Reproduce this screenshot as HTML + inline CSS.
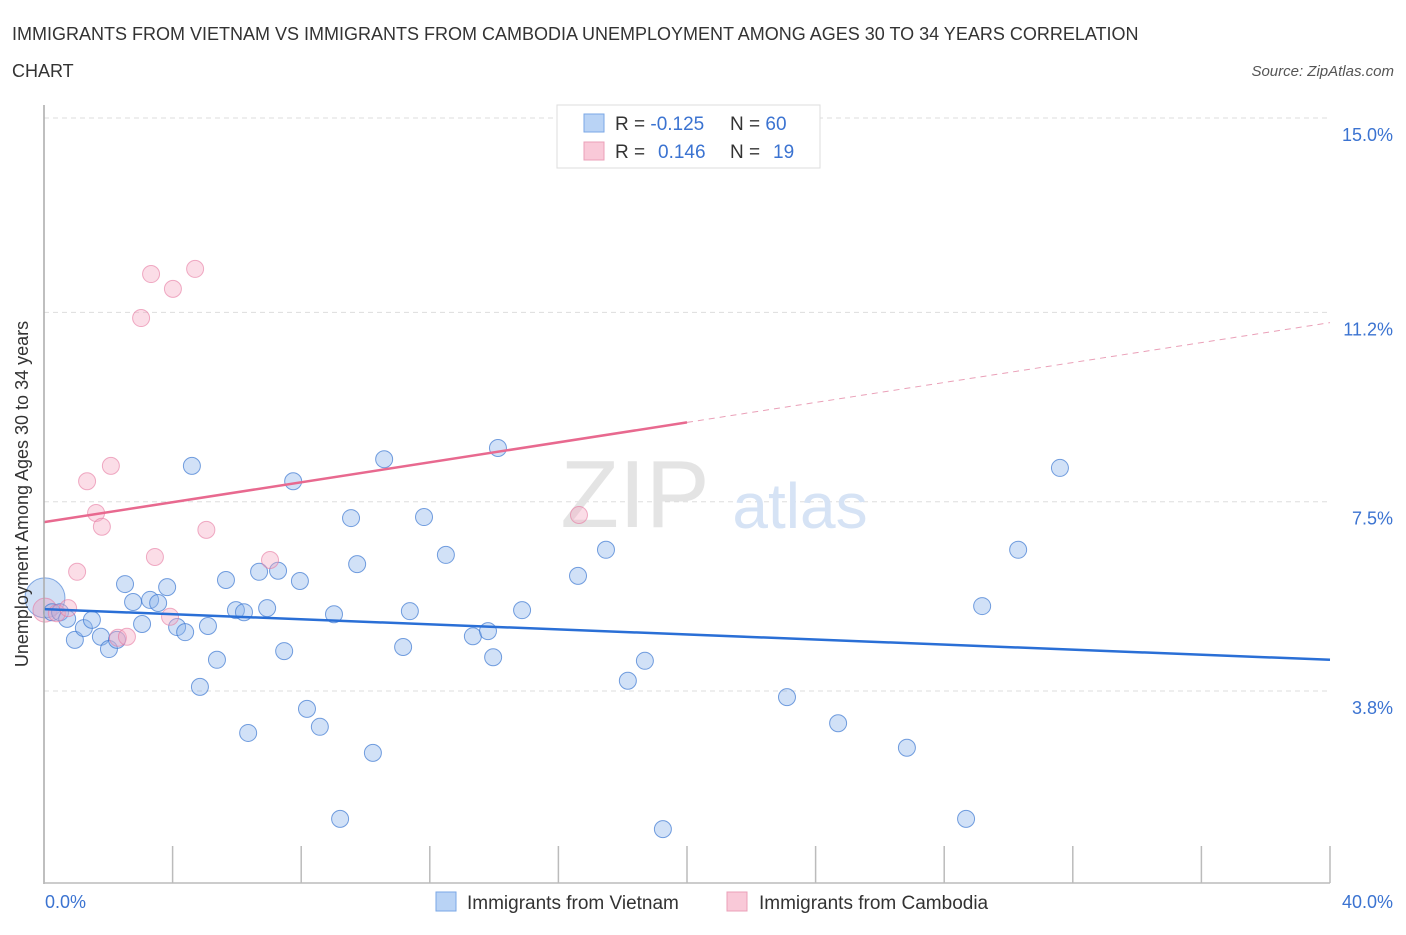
<!DOCTYPE html>
<html><head><meta charset="utf-8"><style>
body{margin:0;background:#fff;font-family:"Liberation Sans",sans-serif;}
svg text{font-family:"Liberation Sans",sans-serif;}
</style></head><body>
<svg width="1406" height="930">
<text x="12" y="40" font-size="18" fill="#333">IMMIGRANTS FROM VIETNAM VS IMMIGRANTS FROM CAMBODIA UNEMPLOYMENT AMONG AGES 30 TO 34 YEARS CORRELATION</text>
<text x="12" y="77" font-size="18" fill="#333">CHART</text>
<text x="1394" y="76" font-size="15" fill="#555" font-style="italic" text-anchor="end">Source: ZipAtlas.com</text>
<g id="grid"></g>
<text x="635" y="527" font-size="96" fill="#e4e4e4" font-family="Liberation Serif" text-anchor="middle">ZIP</text>
<text x="800" y="528" font-size="64" fill="#d6e3f5" text-anchor="middle">atlas</text>
<g id="pts"></g>
<g id="lines"></g>
<line x1="44" y1="105" x2="44" y2="884" stroke="#aaa" stroke-width="1.5"/>
<line x1="44" y1="883" x2="1330" y2="883" stroke="#bbb" stroke-width="1.5"/>
<text x="28" y="494" font-size="18" fill="#333" text-anchor="middle" transform="rotate(-90 28 494)">Unemployment Among Ages 30 to 34 years</text>
<text x="45" y="908" font-size="18" fill="#3b73d1">0.0%</text>
<text x="1393" y="908" font-size="18" fill="#3b73d1" text-anchor="end">40.0%</text>
<g>
<rect x="557" y="105" width="263" height="63" fill="#fff" stroke="#ddd"/>
<rect x="584" y="114" width="20" height="18" fill="#b9d3f5" stroke="#7aa7e6"/>
<rect x="584" y="142" width="20" height="18" fill="#f9c9d8" stroke="#eba0b8"/>
<text x="615" y="130" font-size="19" fill="#333">R = <tspan fill="#3b73d1">-0.125</tspan><tspan x="730">N = </tspan><tspan fill="#3b73d1">60</tspan></text>
<text x="615" y="158" font-size="19" fill="#333">R = <tspan fill="#3b73d1" x="658">0.146</tspan><tspan x="730">N = </tspan><tspan fill="#3b73d1" x="773">19</tspan></text>
</g>
<rect x="436" y="892" width="20" height="19" fill="#b9d3f5" stroke="#7aa7e6"/>
<text x="467" y="909" font-size="19" fill="#333">Immigrants from Vietnam</text>
<rect x="727" y="892" width="20" height="19" fill="#f9c9d8" stroke="#eba0b8"/>
<text x="759" y="909" font-size="19" fill="#333">Immigrants from Cambodia</text>
</svg>
<script>
const yTicks=[15.0,11.2,7.5,3.8];
const yTickLabels=["15.0%","11.2%","7.5%","3.8%"];
const vietX=[0.25,0.5,0.72,0.96,1.24,1.49,1.77,2.02,2.27,2.52,2.77,3.05,3.30,3.55,3.83,4.14,4.39,4.60,4.85,5.10,5.38,5.66,5.97,6.22,6.35,6.69,6.94,7.28,7.47,7.75,7.96,8.18,8.58,9.02,9.21,9.55,9.74,10.23,10.58,11.17,11.38,11.82,12.50,13.34,13.81,13.97,14.12,14.87,16.61,17.48,18.16,18.69,19.25,23.11,24.70,26.84,28.68,29.18,30.30,31.60];
const vietY=[5.34,5.34,5.21,4.80,5.03,5.19,4.86,4.62,4.80,5.89,5.54,5.11,5.58,5.52,5.83,5.05,4.95,8.20,3.88,5.07,4.41,5.97,5.38,5.34,2.98,6.13,5.42,6.15,4.58,7.90,5.95,3.45,3.10,5.30,1.30,7.18,6.28,2.59,8.33,4.66,5.36,7.20,6.46,4.87,4.97,4.46,8.55,5.38,6.05,6.56,4.00,4.39,1.10,3.68,3.17,2.69,1.30,5.46,6.56,8.16];
const cambX=[0.40,0.75,1.03,1.34,1.62,1.80,2.08,2.30,2.58,3.02,3.33,3.45,3.92,4.01,4.70,5.05,7.03,16.64];
const cambY=[5.32,5.42,6.13,7.90,7.28,7.01,8.20,4.84,4.86,11.09,11.95,6.42,5.25,11.66,12.05,6.95,6.36,7.24];
const bigX=[0.03,0.03];
const bigY=[5.62,5.38];
const vietTrend=[5.40,4.41];
const cambTrend=[7.10,11.0];
const NS="http://www.w3.org/2000/svg";
function xs(v){return 44+v*(1286/40);}
function ys(v){return 118+(15-v)*51.16;}
function mk(t,a,p){const e=document.createElementNS(NS,t);for(const k in a)e.setAttribute(k,a[k]);p.appendChild(e);return e;}
const grid=document.getElementById('grid');
yTicks.forEach((t,i)=>{
 const l=mk('line',{x1:44,x2:1330,y1:ys(t),y2:ys(t),stroke:'#ddd','stroke-dasharray':'5,4'},grid);
 
 
 const tx=mk('text',{x:1393,y:ys(t)+23,'font-size':18,fill:'#3b73d1','text-anchor':'end'},grid);
 tx.textContent=yTickLabels[i];
 
 
});
for(let i=1;i<=10;i++){
 const l=mk('line',{x1:xs(i*4),x2:xs(i*4),y1:846,y2:883,stroke:'#bbb','stroke-width':1.5},grid);
 
 
}
const pts=document.getElementById('pts');
const b0=mk('circle',{cx:xs(bigX[0]),cy:ys(bigY[0]),r:20,fill:'rgba(120,165,230,0.35)',stroke:'rgba(60,120,210,0.6)'},pts);


const b1=mk('circle',{cx:xs(bigX[1]),cy:ys(bigY[1]),r:12,fill:'rgba(240,150,180,0.35)',stroke:'rgba(230,120,160,0.6)'},pts);


vietX.forEach((x,i)=>{
 const c=mk('circle',{cx:xs(x),cy:ys(vietY[i]),r:8.5,fill:'rgba(140,180,235,0.4)',stroke:'rgba(60,120,210,0.7)'},pts);
 
 
});
cambX.forEach((x,i)=>{
 const c=mk('circle',{cx:xs(x),cy:ys(cambY[i]),r:8.5,fill:'rgba(245,170,195,0.4)',stroke:'rgba(230,120,160,0.6)'},pts);
 
 
});
const lines=document.getElementById('lines');
const vt=mk('line',{x1:xs(0),y1:ys(vietTrend[0]),x2:xs(40),y2:ys(vietTrend[1]),stroke:'#2a6fd6','stroke-width':2.5},lines);


const cm=(cambTrend[0]+cambTrend[1])/2;
const ct=mk('line',{x1:xs(0),y1:ys(cambTrend[0]),x2:xs(20),y2:ys(cm),stroke:'#e8698f','stroke-width':2.5},lines);


const cd=mk('line',{x1:xs(20),y1:ys(cm),x2:xs(40),y2:ys(cambTrend[1]),stroke:'#eaa0b8','stroke-width':1,'stroke-dasharray':'6,5'},lines);


</script>
</body></html>
